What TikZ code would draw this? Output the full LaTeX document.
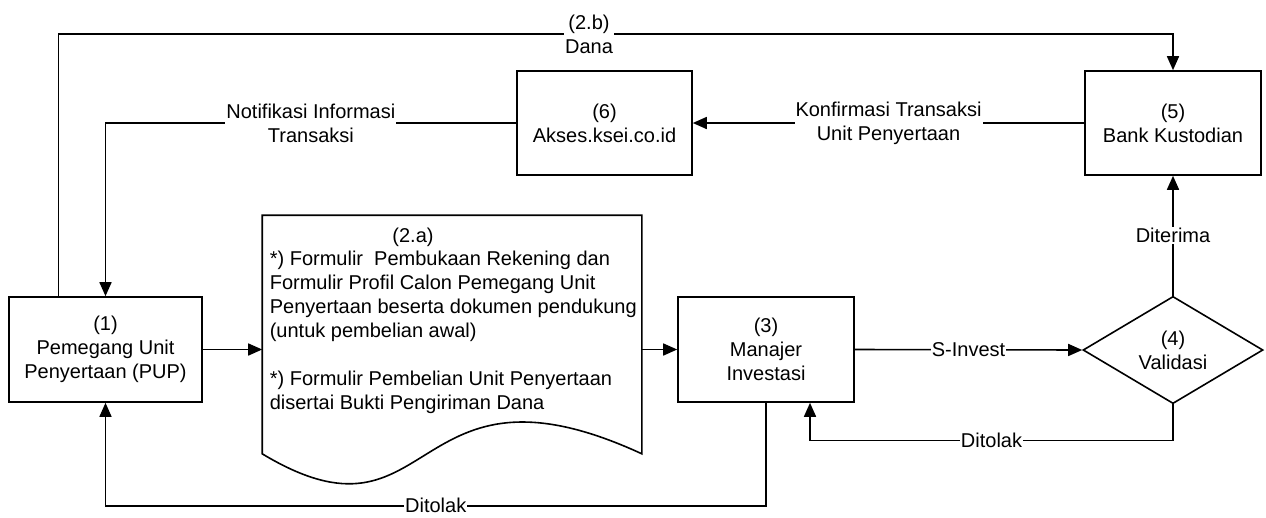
\documentclass[tikz,border=0pt]{standalone}
\usepackage{fontspec}
\setmainfont{Liberation Sans}
\usetikzlibrary{arrows.meta,shapes.geometric}

\begin{document}
\begin{tikzpicture}[x=1pt,y=-1pt,line width=1.6pt,
  font=\fontsize{20}{24}\selectfont,
  box/.style={draw,rectangle,align=center,inner sep=0pt},
  valbox/.style={draw,diamond,align=center,inner sep=0pt,minimum width=180pt,minimum height=106pt},
  lbl/.style={fill=white,align=center,inner sep=1pt},
  arr/.style={-{Triangle[length=14pt,width=12pt]}}]
\useasboundingbox (0,0) rectangle (1266,517);
\node[box,minimum width=193pt,minimum height=105pt] (pup) at (105.5,349.5) {(1)\\Pemegang Unit\\Penyertaan (PUP)};
\node[box,minimum width=176pt,minimum height=105pt] (mi) at (766,349.5) {(3)\\Manajer\\Investasi};
\node[valbox] (val) at (1173,350) {(4)\\Validasi};
\node[box,minimum width=176pt,minimum height=104pt] (bk) at (1173,123) {(5)\\Bank Kustodian};
\node[box,minimum width=175pt,minimum height=104pt] (ak) at (604.5,123) {(6)\\Akses.ksei.co.id};
\node[minimum width=378pt,minimum height=237pt,inner sep=0pt] (doc) at (452,334.5) {};
\draw (doc.south east) -- (doc.north east) -- (doc.north west) -- (doc.south west)
  .. controls (437,559) and (406,345) .. (doc.south east) -- cycle;
\node[inner sep=0pt] (nomor) at (413,237) {(2.a)};
\node[anchor=north west,align=left,inner sep=0pt] (isi) at (269,250) {*) Formulir\ \ Pembukaan Rekening dan\\Formulir Profil Calon Pemegang Unit\\Penyertaan beserta dokumen pendukung\\(untuk pembelian awal)\\[24pt]*) Formulir Pembelian Unit Penyertaan\\disertai Bukti Pengiriman Dana};

\draw[arr] (pup.east) -- (pup.east -| doc.west);
\draw[arr] (mi.west -| doc.east) -- (mi.west);
\draw[arr] (mi.east) -- (val.west) node[lbl,midway] {S-Invest};
\draw[arr] (val.north) -- (bk.south) node[lbl,midway] {Diterima};
\draw[arr] (bk.west) -- (ak.east) node[lbl,midway] {Konfirmasi Transaksi\\Unit Penyertaan};
\draw[arr] (ak.west) -| (pup.north) node[lbl,pos=0.25] {Notifikasi Informasi\\Transaksi};
\draw[arr] ([xshift=-47]pup.north) -- ++(0,-262) -| (bk.north) node[lbl,pos=0.238] {(2.b)\\Dana};
\draw[arr] (mi.south) -- ++(0,103) -| (pup.south) node[lbl,pos=0.25] {Ditolak};
\draw[arr] (val.south) -- ++(0,36) -| ([xshift=44]mi.south) node[lbl,pos=0.25] {Ditolak};
\end{tikzpicture}
\end{document}
